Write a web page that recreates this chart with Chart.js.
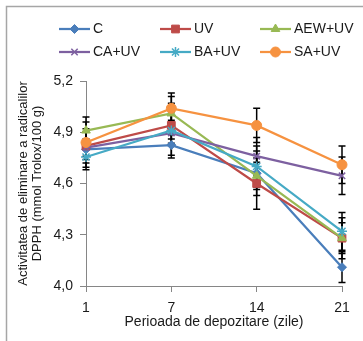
<!DOCTYPE html>
<html>
<head>
<meta charset="utf-8">
<script src="https://cdn.jsdelivr.net/npm/chart.js@4/dist/chart.umd.min.js"></script>
<style>
  html, body { margin: 0; padding: 0; background: #ffffff; }
  canvas { display: block; }
</style>
</head>
<body>
<canvas id="chart" width="363" height="341"></canvas>
<script>
// Storage days (x categories)
const days = ['1', '7', '14', '21'];

// DPPH radical scavenging activity, mmol Trolox/100 g
const seriesNames = ['C', 'UV', 'AEW+UV', 'CA+UV', 'BA+UV', 'SA+UV'];
const valC    = [4.80, 4.825, 4.66, 4.11];
const valUV   = [4.82, 4.94, 4.60, 4.28];
const valAEW  = [4.91, 5.01, 4.645, 4.28];
const valCA   = [4.81, 4.895, 4.76, 4.645];
const valBA   = [4.755, 4.91, 4.70, 4.32];
const valSA   = [4.84, 5.04, 4.94, 4.71];

// Standard deviations (error bars)
const errC    = [0.12, 0.06, 0.13, 0.09];
const errUV   = [0.08, 0.08, 0.15, 0.12];
const errAEW  = [0.08, 0.12, 0.08, 0.09];
const errCA   = [0.05, 0.06, 0.11, 0.11];
const errBA   = [0.06, 0.16, 0.12, 0.11];
const errSA   = [0.12, 0.07, 0.10, 0.11];

// Y tick values
const yTicks = [4.0, 4.3, 4.6, 4.9, 5.2];

const values = [valC, valUV, valAEW, valCA, valBA, valSA];
const errors = [errC, errUV, errAEW, errCA, errBA, errSA];
const colors = ['#4A7EBB', '#BE4B48', '#98B954', '#7D60A0', '#46AAC5', '#F69240'];
const styles = ['rectRot', 'rect', 'triangle', 'crossRot', 'star', 'circle'];
const radii  = [4.5, 5.5, 5, 4.5, 5, 5];

const FONT = '"Liberation Sans", Arial, sans-serif';

const datasets = seriesNames.map((name, i) => ({
  label: name,
  data: values[i],
  errors: errors[i],
  borderColor: colors[i],
  backgroundColor: colors[i],
  pointBackgroundColor: colors[i],
  pointBorderColor: colors[i],
  pointStyle: styles[i],
  pointRadius: radii[i],
  pointBorderWidth: (styles[i] === 'crossRot' || styles[i] === 'star') ? 1.5 : 1,
  borderWidth: 2.25,
  tension: 0,
  fill: false,
  order: seriesNames.length - i
}));

// Outer frame of the figure
const framePlugin = {
  id: 'frame',
  beforeDraw(chart) {
    const ctx = chart.ctx;
    ctx.save();
    ctx.strokeStyle = '#a6a6a6';
    ctx.lineWidth = 1.5;
    ctx.beginPath();
    ctx.moveTo(6.5, chart.height);
    ctx.lineTo(6.5, 6.5);
    ctx.lineTo(chart.width, 6.5);
    ctx.stroke();
    ctx.restore();
  }
};

// Vertical error bars with caps, drawn through the chart scales
const errorBarPlugin = {
  id: 'errorBars',
  beforeDatasetsDraw(chart) {
    const ctx = chart.ctx;
    const y = chart.scales.y;
    ctx.save();
    ctx.strokeStyle = '#000000';
    ctx.lineWidth = 1.5;
    chart.data.datasets.forEach((ds, di) => {
      const meta = chart.getDatasetMeta(di);
      meta.data.forEach((pt, j) => {
        const v = ds.data[j];
        const e = ds.errors[j];
        const x = pt.x;
        const top = y.getPixelForValue(v + e);
        const bot = y.getPixelForValue(v - e);
        ctx.beginPath();
        ctx.moveTo(x, top);
        ctx.lineTo(x, bot);
        ctx.moveTo(x - 3.5, top);
        ctx.lineTo(x + 3.5, top);
        ctx.moveTo(x - 3.5, bot);
        ctx.lineTo(x + 3.5, bot);
        ctx.stroke();
      });
    });
    ctx.restore();
  }
};

// Legend: line sample with marker, three columns by two rows
const legendPlugin = {
  id: 'lineLegend',
  afterDraw(chart) {
    const ctx = chart.ctx;
    const colX = [59, 160, 260];
    const rowY = [29, 52];
    ctx.save();
    chart.data.datasets.forEach((ds, i) => {
      const x0 = colX[i % 3];
      const yy = rowY[Math.floor(i / 3)];
      ctx.strokeStyle = ds.borderColor;
      ctx.lineWidth = 2.25;
      ctx.beginPath();
      ctx.moveTo(x0, yy);
      ctx.lineTo(x0 + 31, yy);
      ctx.stroke();
      ctx.fillStyle = ds.pointBackgroundColor;
      ctx.strokeStyle = ds.pointBorderColor;
      ctx.lineWidth = ds.pointBorderWidth;
      Chart.helpers.drawPoint(ctx, {
        pointStyle: ds.pointStyle,
        radius: ds.pointRadius,
        rotation: 0,
        borderWidth: ds.pointBorderWidth
      }, x0 + 15.5, yy);
      ctx.fillStyle = '#1a1a1a';
      ctx.font = '14px ' + FONT;
      ctx.textBaseline = 'middle';
      ctx.textAlign = 'left';
      ctx.fillText(ds.label, x0 + 34, yy + 0.5);
    });
    ctx.restore();
  }
};

new Chart(document.getElementById('chart'), {
  type: 'line',
  data: { labels: days, datasets },
  options: {
    responsive: false,
    devicePixelRatio: 1,
    animation: false,
    layout: { padding: { top: 81, right: 21, bottom: 0, left: 0 } },
    plugins: {
      legend: { display: false },
      tooltip: { enabled: false }
    },
    scales: {
      x: {
        type: 'category',
        offset: false,
        grid: {
          drawOnChartArea: false,
          drawTicks: true,
          tickLength: 6,
          color: '#868686',
          lineWidth: 1
        },
        border: { color: '#868686', width: 1 },
        ticks: {
          padding: 8,
          maxRotation: 0,
          color: '#1a1a1a',
          font: { family: FONT, size: 14 }
        },
        title: {
          display: true,
          text: 'Perioada de depozitare (zile)',
          color: '#1a1a1a',
          font: { family: FONT, size: 14, lineHeight: '14px' },
          padding: { top: 0, bottom: 12 }
        },
        afterFit(scale) { scale.height = 55; }
      },
      y: {
        min: 4.0,
        max: 5.2,
        grid: {
          drawOnChartArea: false,
          drawTicks: true,
          tickLength: 6,
          color: '#868686',
          lineWidth: 1
        },
        border: { color: '#868686', width: 1 },
        afterBuildTicks(scale) {
          scale.ticks = yTicks.map(v => ({ value: v }));
        },
        ticks: {
          padding: 7,
          color: '#1a1a1a',
          font: { family: FONT, size: 14 },
          callback: (v) => Number(v).toFixed(1).replace('.', ',')
        },
        title: {
          display: true,
          text: ['Activitatea de eliminare a radicalilor', 'DPPH (mmol Trolox/100 g)'],
          color: '#1a1a1a',
          font: { family: FONT, size: 13, lineHeight: '14px' },
          padding: { top: 16, bottom: 0 }
        },
        afterFit(scale) { scale.width = 86; }
      }
    }
  },
  plugins: [framePlugin, errorBarPlugin, legendPlugin]
});
</script>
</body>
</html>
